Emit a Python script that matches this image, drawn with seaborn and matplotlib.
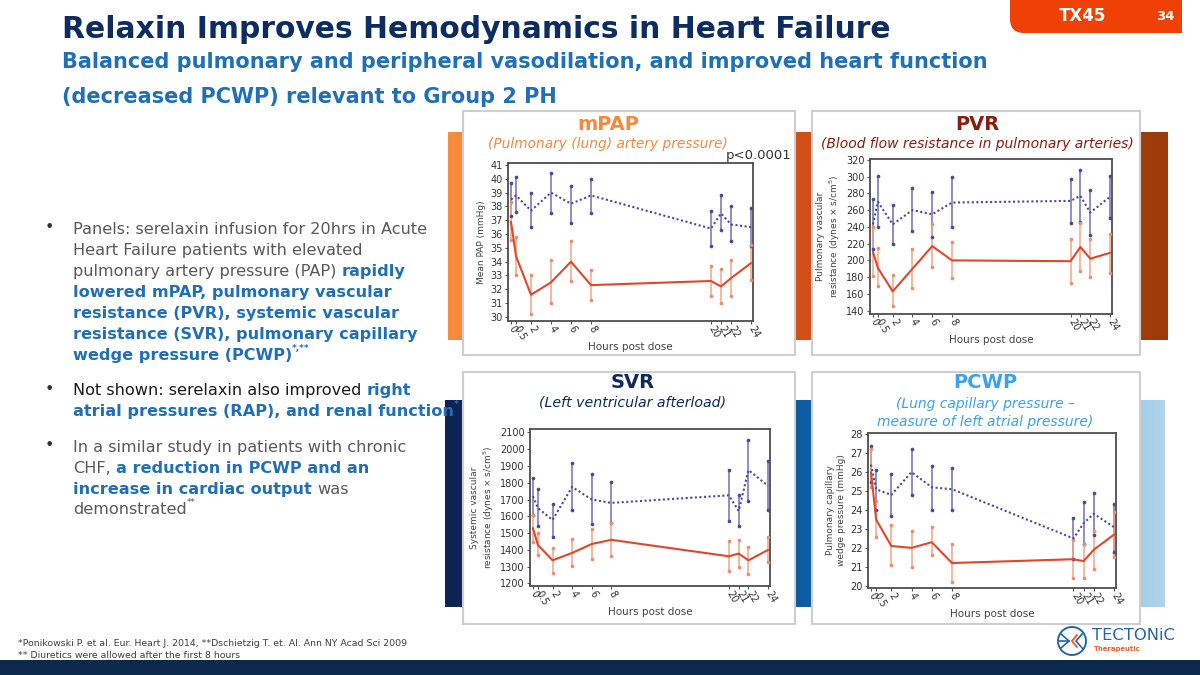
import matplotlib
matplotlib.use('Agg')
import matplotlib.pyplot as plt
import numpy as np
import pandas as pd
import seaborn as sns
from matplotlib.colors import LinearSegmentedColormap
from matplotlib.patches import Rectangle, FancyBboxPatch, Circle

# ---- data ----
HOURS = [0, 0.5, 2, 4, 6, 8, 20, 21, 22, 24]
HOUR_LABELS = ['0', '0.5', '2', '4', '6', '8', '20', '21', '22', '24']

MPAP_PBO = [38.5, 38.8, 37.7, 39.0, 38.2, 38.8, 36.4, 37.5, 36.7, 36.5]
MPAP_PBO_LO = [37.3, 37.6, 36.5, 37.5, 36.8, 37.5, 35.1, 36.3, 35.5, 35.1]
MPAP_PBO_HI = [39.7, 40.1, 39.0, 40.4, 39.5, 40.0, 37.7, 38.8, 38.0, 37.9]
MPAP_SRX = [36.9, 34.4, 31.6, 32.5, 34.0, 32.3, 32.6, 32.2, 32.8, 33.9]
MPAP_SRX_LO = [35.6, 33.0, 30.2, 31.0, 32.6, 31.2, 31.5, 31.0, 31.5, 32.7]
MPAP_SRX_HI = [38.3, 35.8, 33.0, 34.1, 35.5, 33.4, 33.7, 33.5, 34.1, 35.2]

PVR_PBO = [243, 270, 243, 260, 255, 269, 271, 277, 257, 276]
PVR_PBO_LO = [213, 240, 220, 235, 228, 240, 245, 246, 230, 251]
PVR_PBO_HI = [273, 301, 266, 286, 282, 299, 297, 308, 284, 301]
PVR_SRX = [210, 191, 163, 190, 217, 200, 199, 216, 202, 209]
PVR_SRX_LO = [181, 169, 145, 167, 192, 179, 173, 187, 180, 185]
PVR_SRX_HI = [240, 215, 182, 213, 243, 222, 225, 245, 225, 232]

SVR_PBO = [1720, 1650, 1578, 1775, 1700, 1680, 1725, 1632, 1875, 1782]
SVR_PBO_LO = [1610, 1540, 1478, 1638, 1555, 1558, 1575, 1542, 1690, 1635]
SVR_PBO_HI = [1830, 1760, 1675, 1915, 1850, 1805, 1875, 1725, 2055, 1928]
SVR_SRX = [1530, 1430, 1338, 1382, 1435, 1460, 1362, 1378, 1338, 1400]
SVR_SRX_LO = [1450, 1368, 1265, 1302, 1348, 1362, 1272, 1297, 1257, 1325]
SVR_SRX_HI = [1610, 1498, 1410, 1463, 1525, 1560, 1452, 1457, 1415, 1475]

PCWP_PBO = [26.4, 25.1, 24.8, 26.0, 25.2, 25.1, 22.5, 23.3, 23.8, 23.1]
PCWP_PBO_LO = [25.5, 24.0, 23.7, 24.8, 24.0, 24.0, 21.4, 22.2, 22.7, 21.8]
PCWP_PBO_HI = [27.4, 26.1, 25.9, 27.2, 26.3, 26.2, 23.6, 24.4, 24.9, 24.3]
PCWP_SRX = [26.0, 23.5, 22.1, 22.0, 22.3, 21.2, 21.4, 21.3, 21.9, 22.7]
PCWP_SRX_LO = [25.2, 22.6, 21.1, 21.0, 21.6, 20.2, 20.4, 20.4, 20.9, 21.5]
PCWP_SRX_HI = [27.2, 24.5, 23.2, 22.9, 23.1, 22.2, 22.4, 22.2, 22.9, 23.9]

W, H = 1200, 675
NAVY = '#0d2d62'
BLUE = '#1f70b9'
GREY = '#595959'
PAL = {'Placebo': '#4a4a9c', 'Serelaxin': '#e0472b'}
DASH = {'Placebo': (1, 1.2), 'Serelaxin': ''}

sns.set_style('white')
plt.rcParams['font.family'] = ['DejaVu Sans']

fig = plt.figure(figsize=(12, 6.75), dpi=100)
bg = fig.add_axes([0, 0, 1, 1], zorder=0)
bg.axis('off')
R = fig.canvas.get_renderer()


def width_of(t):
    return t.get_window_extent(R).width


def fit(x, y, s, width, size=10, ax=None, **kw):
    ax = ax or bg
    t = ax.text(x, y, s, fontsize=size, **kw)
    t.set_fontsize(size * width / width_of(t))
    return t


def space_w(size, weight):
    a = bg.text(0, 0, 'x x', fontsize=size, weight=weight)
    b = bg.text(0, 0, 'xx', fontsize=size, weight=weight)
    w = width_of(a) - width_of(b)
    a.remove(); b.remove()
    return w


STYLES = {'g': dict(color=GREY, weight='normal'),
          'k': dict(color='#1a1a1a', weight='normal'),
          'b': dict(color=BLUE, weight='bold')}


def seg_line(x, y, parts, size):
    prev = STYLES['g']
    for s, st in parts:
        if st == 'sup':
            kw = dict(prev)
            fs, dy = size * 0.55, -size * 0.75
        else:
            kw = STYLES[st]
            fs, dy = size, 0
            prev = kw
        sw = space_w(fs, kw['weight'])
        x += sw * (len(s) - len(s.lstrip(' ')))
        t = bg.text(x, y + dy, s.strip(' '), fontsize=fs, va='baseline', **kw)
        x += width_of(t) + sw * (len(s) - len(s.rstrip(' ')))


# ---- background bands behind the panels ----
top_cmap = LinearSegmentedColormap.from_list('top', [(0, '#f68d3b'), (0.49, '#d24f18'), (1, '#9c3c0a')])
bot_cmap = LinearSegmentedColormap.from_list('bot', [(0, '#0e2352'), (0.49, '#0b5aa2'), (1, '#b0d4ec')])
grad = np.linspace(0, 1, 256).reshape(1, -1)
bg.imshow(grad, cmap=top_cmap, aspect='auto', extent=(448, 1168, 340, 132), zorder=0)
bg.imshow(grad, cmap=bot_cmap, aspect='auto', extent=(445, 1165, 607, 400), zorder=0)

for bx, by, bw, bh in [(463, 111, 332, 244), (812, 111, 328, 244), (463, 372, 332, 252), (812, 372, 328, 252)]:
    bg.add_patch(Rectangle((bx, by), bw, bh, facecolor='white', edgecolor='#cfcfcf', lw=1.5, zorder=1))

# ---- header ----
bg.add_patch(FancyBboxPatch((1010, -30), 240, 63, boxstyle='round,pad=0,rounding_size=14',
                            facecolor='#ef4106', edgecolor='none', zorder=2))
bg.add_patch(Rectangle((1182, -5), 30, 50, facecolor='white', edgecolor='none', zorder=3))
bg.text(1083, 16, 'TX45', color='white', fontsize=12, weight='bold', ha='center', va='center', zorder=4)
bg.text(1165, 16, '34', color='white', fontsize=9.5, weight='bold', ha='center', va='center', zorder=4)

fit(62, 29, 'Relaxin Improves Hemodynamics in Heart Failure', 826, color=NAVY, weight='bold', va='center')
sub = fit(62, 62, 'Balanced pulmonary and peripheral vasodilation, and improved heart function', 928,
          color=BLUE, weight='bold', va='center')
bg.text(62, 97, '(decreased PCWP) relevant to Group 2 PH', fontsize=sub.get_fontsize(),
        color=BLUE, weight='bold', va='center')

# ---- bullets ----
probe = bg.text(0, 0, 'Panels: serelaxin infusion for 20hrs in Acute', fontsize=10)
body = 10 * 353 / width_of(probe)
probe.remove()
BULLETS = [
    (228, True, [('Panels: serelaxin infusion for 20hrs in Acute', 'g')]),
    (249, False, [('Heart Failure patients with elevated', 'g')]),
    (270, False, [('pulmonary artery pressure (PAP) ', 'g'), ('rapidly', 'b')]),
    (291, False, [('lowered mPAP, pulmonary vascular', 'b')]),
    (312, False, [('resistance (PVR), systemic vascular', 'b')]),
    (333, False, [('resistance (SVR), pulmonary capillary', 'b')]),
    (354, False, [('wedge pressure (PCWP)', 'b'), ('*,**', 'sup')]),
    (389, True, [('Not shown: serelaxin also improved ', 'k'), ('right', 'b')]),
    (410, False, [('atrial pressures (RAP), and renal function', 'b'), ('*', 'sup')]),
    (446, True, [('In a similar study in patients with chronic', 'g')]),
    (467, False, [('CHF, ', 'g'), ('a reduction in PCWP and an', 'b')]),
    (488, False, [('increase in cardiac output', 'b'), (' was', 'g')]),
    (508, False, [('demonstrated', 'g'), ('**', 'sup')]),
]
for y, dot, parts in BULLETS:
    if dot:
        bg.text(49, y, '\u2022', fontsize=body, color='#333333', ha='center', va='center')
    seg_line(73, y + 6, parts, body)

# ---- panel titles ----
PANEL_TEXT = [
    (608, 124, 'mPAP', ['(Pulmonary (lung) artery pressure)'], 240, '#f58a3c'),
    (977, 124, 'PVR', ['(Blood flow resistance in pulmonary arteries)'], 313, '#8a1d0c'),
    (633, 383, 'SVR', ['(Left ventricular afterload)'], 188, '#0f2a5c'),
    (985, 383, 'PCWP', ['(Lung capillary pressure \u2013', 'measure of left atrial pressure)'], 217, '#3ba2ec'),
]
for cx, cy, head, lines, wid, col in PANEL_TEXT:
    bg.text(cx, cy, head, fontsize=14, weight='bold', color=col, ha='center', va='center', zorder=5)
    ref = fit(cx, cy + 20, lines[-1], wid, style='italic', color=col, ha='center', va='center', zorder=5)
    if len(lines) == 2:
        ref.set_y(cy + 39)
        bg.text(cx, cy + 21, lines[0], fontsize=ref.get_fontsize(), style='italic', color=col,
                ha='center', va='center', zorder=5)

# ---- footer ----
foot = fit(18, 643, '*Ponikowski P. et al. Eur. Heart J. 2014, **Dschietzig T. et. Al. Ann NY Acad Sci 2009',
           391, color='#404040', va='center')
bg.text(18, 656, '** Diuretics were allowed after the first 8 hours', fontsize=foot.get_fontsize(),
        color='#404040', va='center')
bg.add_patch(Rectangle((0, 660), W, 20, facecolor='#0b2a4b', edgecolor='none', zorder=2))

# logo
bg.add_patch(Circle((1072, 641), 14, facecolor='none', edgecolor='#2566a8', lw=1.4, zorder=3))
for (xa, ya) in [(1061, 634), (1059, 641), (1061, 648)]:
    bg.plot([xa, 1069], [ya, 641], color='#2566a8', lw=1.2, zorder=3)
bg.plot([1077, 1072, 1077], [635, 641, 647], color='#e8622c', lw=1.4, zorder=3)
bg.plot([1083, 1076, 1083], [633, 641, 649], color='#2566a8', lw=1.2, zorder=3)
fit(1092, 636, 'TECTONiC', 83, color='#2566a8', va='center')
fit(1094, 649, 'Therapeutic', 47, color='#e8622c', weight='bold', va='center')

bg.set_xlim(0, W)
bg.set_ylim(H, 0)

# ---- the four charts ----
PANELS = [
    dict(rect=(508, 163, 753, 321), pbo=(MPAP_PBO, MPAP_PBO_LO, MPAP_PBO_HI),
         srx=(MPAP_SRX, MPAP_SRX_LO, MPAP_SRX_HI), ylim=(29.7, 41.15), yticks=range(30, 42),
         ylabel='Mean PAP (mmHg)'),
    dict(rect=(870, 159, 1112, 314), pbo=(PVR_PBO, PVR_PBO_LO, PVR_PBO_HI),
         srx=(PVR_SRX, PVR_SRX_LO, PVR_SRX_HI), ylim=(136, 321), yticks=range(140, 321, 20),
         ylabel='Pulmonary vascular\nresistance (dynes \u00d7 s/cm$^5$)'),
    dict(rect=(530, 429, 770, 586), pbo=(SVR_PBO, SVR_PBO_LO, SVR_PBO_HI),
         srx=(SVR_SRX, SVR_SRX_LO, SVR_SRX_HI), ylim=(1185, 2120), yticks=range(1200, 2101, 100),
         ylabel='Systemic vascular\nresistance (dynes \u00d7 s/cm$^5$)'),
    dict(rect=(868, 433, 1116, 588), pbo=(PCWP_PBO, PCWP_PBO_LO, PCWP_PBO_HI),
         srx=(PCWP_SRX, PCWP_SRX_LO, PCWP_SRX_HI), ylim=(19.88, 28.07), yticks=range(20, 29),
         ylabel='Pulmonary capillary\nwedge pressure (mmHg)'),
]
ERR = {'Placebo': ('#7070b8', '#4a4a9c'), 'Serelaxin': ('#f2a686', '#ec8f6e')}

axes = []
for p in PANELS:
    x0, y0, x1, y1 = p['rect']
    ax = fig.add_axes([x0 / W, 1 - y1 / H, (x1 - x0) / W, (y1 - y0) / H], zorder=3)
    n = len(HOURS)
    df = pd.DataFrame({'Hours': HOURS * 2, 'Value': p['pbo'][0] + p['srx'][0],
                       'Group': ['Placebo'] * n + ['Serelaxin'] * n})
    for grp, (mean, lo, hi) in (('Placebo', p['pbo']), ('Serelaxin', p['srx'])):
        c_bar, c_cap = ERR[grp]
        ax.vlines(HOURS, lo, hi, color=c_bar, lw=1.1, zorder=2)
        ax.scatter(HOURS * 2, lo + hi, s=7, color=c_cap, marker='o', linewidths=0, zorder=3)
    sns.lineplot(data=df, x='Hours', y='Value', hue='Group', style='Group', palette=PAL,
                 dashes=DASH, errorbar=None, legend=False, lw=1.5, ax=ax, zorder=4)
    ax.set_xlim(-0.3, 24.2)
    ax.set_ylim(*p['ylim'])
    ax.set_xticks(HOURS)
    ax.set_xticklabels(HOUR_LABELS)
    for lab in ax.get_xticklabels():
        lab.set_rotation(-60)
        lab.set_ha('left')
        lab.set_va('center')
        lab.set_rotation_mode('anchor')
    ax.set_yticks(list(p['yticks']))
    ax.tick_params(axis='both', direction='out', length=2.5, width=0.8, labelsize=7,
                   labelcolor='#333333', color='#555555', pad=1.5, bottom=True, left=True)
    for sp in ax.spines.values():
        sp.set_color('#4d4d4d')
        sp.set_linewidth(1.3)
    ax.set_ylabel(p['ylabel'], fontsize=6.5, color='#444444', labelpad=3)
    ax.set_xlabel('Hours post dose', fontsize=7.5, color='#444444', labelpad=0)
    axes.append(ax)

axes[0].text(726, 155, 'p<0.0001', transform=bg.transData, fontsize=9.5, color='#333333',
             va='center', ha='left', clip_on=False, zorder=6)

fig.savefig('out.png', dpi=100)
